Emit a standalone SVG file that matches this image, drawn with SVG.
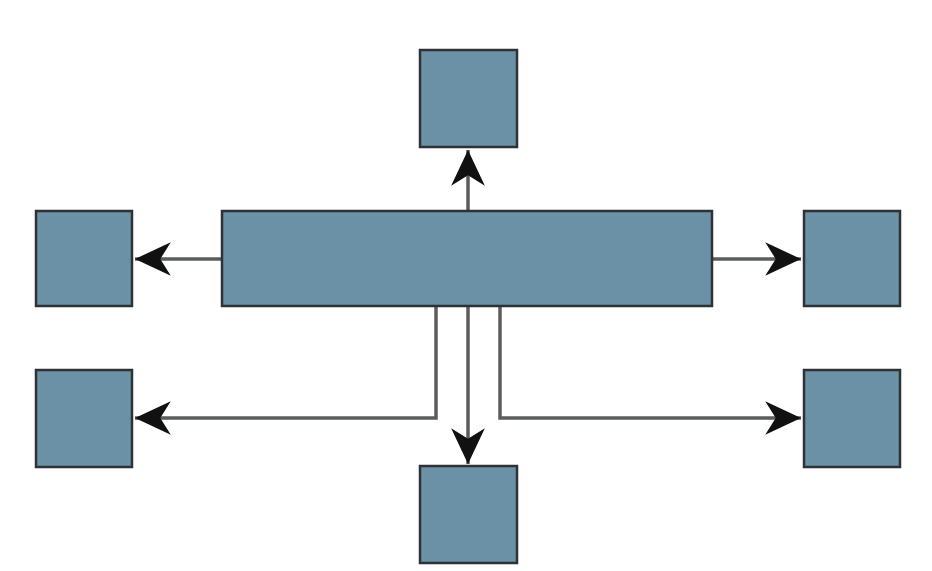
<svg xmlns="http://www.w3.org/2000/svg" width="932" height="571" viewBox="0 0 932 571">
<defs>
<style>
.n{fill:#6b91a6;stroke:#2e3234;stroke-width:2.5}
.c{fill:none;stroke:#5a5c5e;stroke-width:3.5}
</style>
<marker id="ah" markerUnits="userSpaceOnUse" markerWidth="40" markerHeight="40" viewBox="-36 -18 38 36" refX="0" refY="0" orient="auto">
<path d="M0,0 L-34,-16 L-24,0 L-34,16 Z" fill="#111"/>
</marker>
</defs>
<rect width="932" height="571" fill="#fff"/>
<g id="connectors">
<path class="c" d="M468,211 V150" marker-end="url(#ah)"/>
<path class="c" d="M222,259 H135" marker-end="url(#ah)"/>
<path class="c" d="M712,259 H801" marker-end="url(#ah)"/>
<path class="c" d="M436,306 V418 H135" marker-end="url(#ah)"/>
<path class="c" d="M500,306 V418 H801" marker-end="url(#ah)"/>
<path class="c" d="M468,306 V464" marker-end="url(#ah)"/>
</g>
<g id="center"><rect class="n" x="222" y="211" width="490" height="95"/></g>
<g id="top"><rect class="n" x="420" y="50" width="97" height="97"/></g>
<g id="left-mid"><rect class="n" x="36" y="211" width="96" height="95"/></g>
<g id="right-mid"><rect class="n" x="804" y="211" width="96" height="95"/></g>
<g id="left-bottom"><rect class="n" x="36" y="370" width="96" height="97"/></g>
<g id="right-bottom"><rect class="n" x="804" y="370" width="96" height="97"/></g>
<g id="bottom"><rect class="n" x="420" y="466" width="97" height="97"/></g>
</svg>
